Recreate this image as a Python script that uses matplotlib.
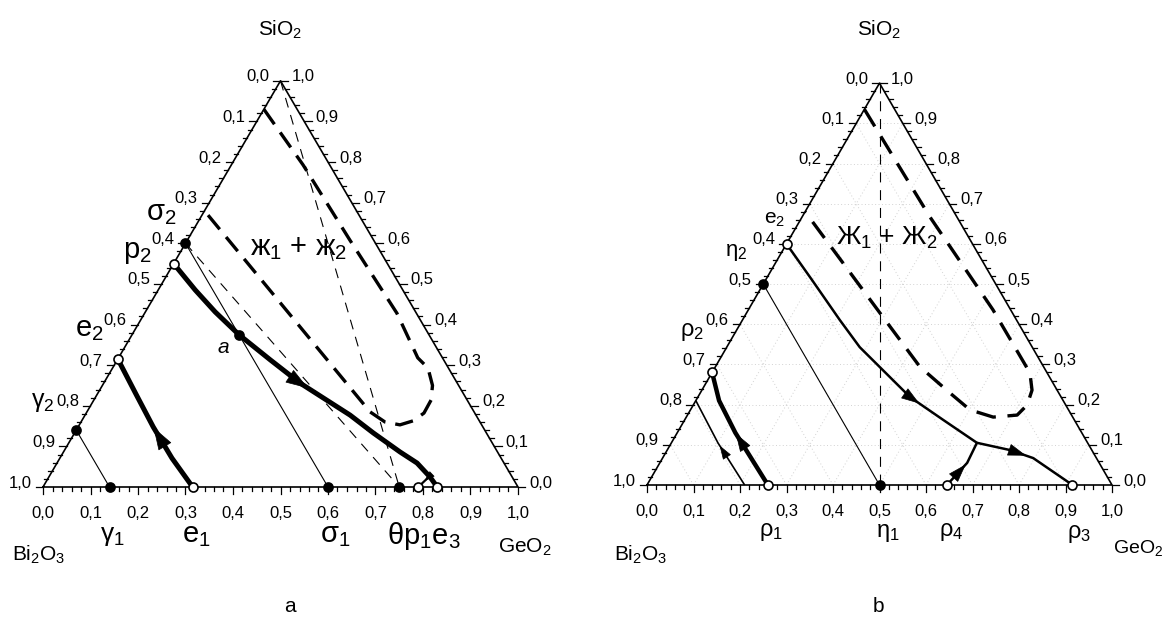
import numpy as np
import matplotlib.pyplot as plt

plt.rcParams['font.family'] = ['Liberation Sans', 'DejaVu Sans']
plt.rcParams['mathtext.fontset'] = 'custom'
plt.rcParams['mathtext.rm'] = 'Liberation Sans'
plt.rcParams['mathtext.it'] = 'Liberation Sans:italic'
plt.rcParams['mathtext.bf'] = 'Liberation Sans:bold'

H = np.sqrt(3) / 2

# compositions are (GeO2, SiO2) mole fractions, Bi2O3 = 1 - GeO2 - SiO2

# ---- diagram a
a_filled_lab = ['γ$_2$', 'σ$_2$', 'γ$_1$', 'σ$_1$', 'θp$_1$e$_3$', 'a']
a_filled_ge = [0.0, 0.0, 0.14, 0.60, 0.75, 0.225]
a_filled_si = [0.14, 0.60, 0.0, 0.0, 0.0, 0.375]
a_open_lab = ['p$_2$', 'e$_2$', 'e$_1$', '', '']
a_open_ge = [0.0, 0.0, 0.315, 0.79, 0.83]
a_open_si = [0.55, 0.315, 0.0, 0.0, 0.0]

a_e1e2_ge = [0.315, 0.236, 0.158, 0.083, 0.0]
a_e1e2_si = [0.0, 0.071, 0.148, 0.227, 0.315]
a_p2e3_ge = [0.0, 0.078, 0.147, 0.225, 0.322, 0.413, 0.558, 0.629, 0.709, 0.758, 0.802, 0.83]
a_p2e3_si = [0.55, 0.485, 0.431, 0.375, 0.313, 0.256, 0.177, 0.133, 0.086, 0.059, 0.025, 0.0]
a_p1_ge = [0.80, 0.79]
a_p1_si = [0.025, 0.0]
a_gap_ge = [0.0, 0.151, 0.342, 0.531, 0.63, 0.664, 0.695, 0.71, 0.711, 0.698, 0.675, 0.64, 0.596, 0.0]
a_gap_si = [0.93, 0.793, 0.608, 0.428, 0.318, 0.293, 0.25, 0.214, 0.182, 0.163, 0.153, 0.16, 0.185, 0.68]
a_tie_ge = [[0.0, 0.14], [0.0, 0.60]]
a_tie_si = [[0.14, 0.0], [0.60, 0.0]]
a_dash_ge = [[0.0, 0.75], [0.0, 0.75]]
a_dash_si = [[1.0, 0.0], [0.60, 0.0]]

# ---- diagram b
b_filled_lab = ['η$_2$', 'η$_1$']
b_filled_ge = [0.0, 0.5]
b_filled_si = [0.5, 0.0]
b_open_lab = ['e$_2$', 'ρ$_2$', 'ρ$_1$', 'ρ$_4$', 'ρ$_3$']
b_open_ge = [0.0, 0.0, 0.26, 0.645, 0.915]
b_open_si = [0.6, 0.28, 0.0, 0.0, 0.0]

b_thin_ge = [0.21, 0.10, 0.0]
b_thin_si = [0.0, 0.105, 0.21]
b_r1r2_ge = [0.26, 0.125, 0.05, 0.0]
b_r1r2_si = [0.0, 0.13, 0.21, 0.28]
b_e2_ge = [0.0, 0.10, 0.21, 0.286, 0.456, 0.556, 0.657]
b_e2_si = [0.6, 0.51, 0.41, 0.343, 0.219, 0.162, 0.105]
b_r3_ge = [0.657, 0.737, 0.797, 0.915]
b_r3_si = [0.105, 0.087, 0.067, 0.0]
b_r4_ge = [0.645, 0.661, 0.657]
b_r4_si = [0.0, 0.055, 0.105]
b_gap_ge = [0.0, 0.162, 0.275, 0.526, 0.684, 0.71, 0.718, 0.709, 0.66, 0.601, 0.537, 0.44, 0.287, 0.0]
b_gap_si = [0.935, 0.777, 0.667, 0.436, 0.279, 0.236, 0.199, 0.174, 0.169, 0.187, 0.229, 0.294, 0.428, 0.68]

ticks_minor = np.round(np.arange(0, 1.0001, 0.02), 2)
ticks_major = np.round(np.arange(0, 1.0001, 0.1), 1)


def to_xy(ge, si):
    ge = np.asarray(ge, float)
    si = np.asarray(si, float)
    return ge + si / 2, si * H


def frame(ax, grid=False):
    x, y = to_xy([0, 1, 0, 0], [0, 0, 1, 0])
    ax.plot(x, y, color='k', lw=1.2, zorder=3)
    if grid:
        for v in ticks_major[1:-1]:
            for ge, si in (([v, v], [0, 1 - v]), ([0, 1 - v], [v, v]), ([1 - v, 0], [0, 1 - v])):
                gx, gy = to_xy(ge, si)
                ax.plot(gx, gy, color='#d2d2d2', lw=0.7, ls=(0, (1, 2.5)), zorder=0)
    lx, ly = 0.0085, 0.0085
    for v in ticks_minor:
        big = np.isclose(v % 0.1, 0) or np.isclose(v % 0.1, 0.1)
        f = 1.8 if big else 1.0
        # bottom axis: GeO2
        ax.plot([v, v], [0, -ly * f], color='k', lw=0.9)
        # left axis: Bi2O3 (0 at apex)
        x0, y0 = to_xy(0, 1 - v)
        ax.plot([x0, x0 - lx * f], [y0, y0], color='k', lw=0.9)
        # right axis: SiO2 (0 at GeO2)
        x0, y0 = to_xy(1 - v, v)
        ax.plot([x0, x0 + lx * f], [y0, y0], color='k', lw=0.9)
    for v in ticks_major:
        s = f'{v:.1f}'.replace('.', ',')
        kw = dict(textcoords='offset pixels', ha='center', va='center', fontsize=12)
        ax.annotate(s, (v, 0), xytext=(0, -26), **kw)
        ax.annotate(s, to_xy(0, 1 - v), xytext=(-23, 4), **kw)
        ax.annotate(s, to_xy(1 - v, v), xytext=(23, 4), **kw)


def curve(ax, ge, si, **kw):
    x, y = to_xy(ge, si)
    ax.plot(x, y, color='k', solid_capstyle='butt', solid_joinstyle='round', **kw)


def arrow(ax, ge, si, t, size=16, back=False):
    x, y = to_xy(ge, si)
    d = np.hypot(np.diff(x), np.diff(y))
    c = np.concatenate([[0], np.cumsum(d)]) / d.sum()
    t1 = t - 0.03 if back else t + 0.03
    p0 = (np.interp(t, c, x), np.interp(t, c, y))
    p1 = (np.interp(t1, c, x), np.interp(t1, c, y))
    ax.annotate('', xy=p1, xytext=p0,
                arrowprops=dict(arrowstyle='-|>,head_length=0.75,head_width=0.25',
                                mutation_scale=size, color='k', lw=0.5,
                                shrinkA=0, shrinkB=0), zorder=5)


def points(ax, ge, si, filled, size=6.5):
    x, y = to_xy(ge, si)
    ax.plot(x, y, 'o', ms=size, mfc='k' if filled else 'white', mec='k',
            mew=1.2, zorder=6, ls='none')


def labels(ax, ge, si, labs, offs, sizes, **kw):
    for g, s, lab, off, fs in zip(ge, si, labs, offs, sizes):
        if lab:
            ax.annotate(lab, to_xy(g, s), xytext=off, textcoords='offset pixels',
                        ha=kw.get('ha', 'center'), va='center', fontsize=fs)


fig = plt.figure(figsize=(11.62, 6.25), dpi=100)
ax_a = fig.add_axes([0, 0, 0.5, 1])
ax_b = fig.add_axes([0.5, 0, 0.5, 1])
ax_a.set_xlim(-43 / 475, 538 / 475)
ax_a.set_ylim(-138 / 469, 487 / 469)
ax_b.set_xlim(-66 / 465, 515 / 465)
ax_b.set_ylim(-140 / 464, 485 / 464)
for ax in (ax_a, ax_b):
    ax.axis('off')

# ---------- a
frame(ax_a)
for ge, si in zip(a_tie_ge, a_tie_si):
    curve(ax_a, ge, si, lw=0.8)
for ge, si in zip(a_dash_ge, a_dash_si):
    curve(ax_a, ge, si, lw=0.8, ls=(0, (9, 7)))
curve(ax_a, a_gap_ge, a_gap_si, lw=2.4, ls=(0, (5.5, 3)))
curve(ax_a, a_e1e2_ge, a_e1e2_si, lw=3.6)
curve(ax_a, a_p2e3_ge, a_p2e3_si, lw=3.6)
curve(ax_a, a_p1_ge, a_p1_si, lw=1.6)
arrow(ax_a, a_e1e2_ge, a_e1e2_si, 0.45, size=20)
arrow(ax_a, a_p2e3_ge, a_p2e3_si, 0.5, size=20)
arrow(ax_a, a_p1_ge, a_p1_si, 0.4, size=9)
points(ax_a, a_filled_ge, a_filled_si, True)
points(ax_a, a_open_ge, a_open_si, False)
labels(ax_a, a_filled_ge[:4], a_filled_si[:4], a_filled_lab[:4],
       [(-33, 28), (-24, 30), (3, -49), (7, -48)], [18, 21, 19, 21])
labels(ax_a, a_filled_ge[4:5], a_filled_si[4:5], a_filled_lab[4:5],
       [(-12, -49)], [21], ha='left')
ax_a.annotate('a', to_xy(a_filled_ge[5], a_filled_si[5]), xytext=(-16, -13),
              textcoords='offset pixels', ha='center', va='center', fontsize=15,
              style='italic')
labels(ax_a, a_open_ge, a_open_si, a_open_lab,
       [(-36, 12), (-28, 30), (4, -48), (0, 0), (0, 0)], [21, 21, 21, 1, 1])
ax_a.text(0.537, 0.51, 'ж$_1$ + ж$_2$', ha='center', va='center', fontsize=21)

# ---------- b
frame(ax_b, grid=True)
curve(ax_b, [0.0, 0.5], [1.0, 0.0], lw=0.8, ls=(0, (9, 7)))
curve(ax_b, [0.0, 0.5], [0.5, 0.0], lw=0.8)
curve(ax_b, b_thin_ge, b_thin_si, lw=1.2)
curve(ax_b, b_r1r2_ge, b_r1r2_si, lw=3.2)
curve(ax_b, b_e2_ge, b_e2_si, lw=1.8)
curve(ax_b, b_r3_ge, b_r3_si, lw=1.8)
curve(ax_b, b_r4_ge, b_r4_si, lw=1.8)
curve(ax_b, b_gap_ge, b_gap_si, lw=2.4, ls=(0, (6, 3.5)))
arrow(ax_b, b_thin_ge, b_thin_si, 0.45, size=12)
arrow(ax_b, b_r1r2_ge, b_r1r2_si, 0.45, size=16)
arrow(ax_b, b_e2_ge, b_e2_si, 0.72, size=16)
arrow(ax_b, b_r3_ge, b_r3_si, 0.45, size=16)
arrow(ax_b, b_r4_ge, b_r4_si, 0.5, size=16)
points(ax_b, b_filled_ge, b_filled_si, True)
points(ax_b, b_open_ge, b_open_si, False)
labels(ax_b, b_filled_ge, b_filled_si, b_filled_lab, [(-27, 32), (8, -48)], [16, 17])
labels(ax_b, b_open_ge, b_open_si, b_open_lab,
       [(-12, 24), (-20, 40), (3, -47), (4, -47), (7, -49)], [15, 17, 17, 17, 17])
ax_b.text(0.516, 0.532, 'Ж$_1$ + Ж$_2$', ha='center', va='center', fontsize=19)

# vertex names and captions
ax_a.text(0.5, 457 / 469, 'SiO$_2$', ha='center', va='center', fontsize=15)
ax_a.text(-4 / 475, -68 / 469, 'Bi$_2$O$_3$', ha='center', va='center', fontsize=15)
ax_a.text(1 - 20 / 475, -60 / 469, 'GeO$_2$', ha='left', va='center', fontsize=15)
ax_b.text(0.5, 455 / 464, 'SiO$_2$', ha='center', va='center', fontsize=15)
ax_b.text(-6 / 465, -70 / 464, 'Bi$_2$O$_3$', ha='center', va='center', fontsize=15)
ax_b.text(1 + 1 / 465, -63 / 464, 'GeO$_2$', ha='left', va='center', fontsize=14)
fig.text(290 / 1162, 1 - 607 / 625, 'a', ha='center', va='center', fontsize=15)
fig.text(878 / 1162, 1 - 607 / 625, 'b', ha='center', va='center', fontsize=15)

fig.savefig('out.png', dpi=100, facecolor='white')
